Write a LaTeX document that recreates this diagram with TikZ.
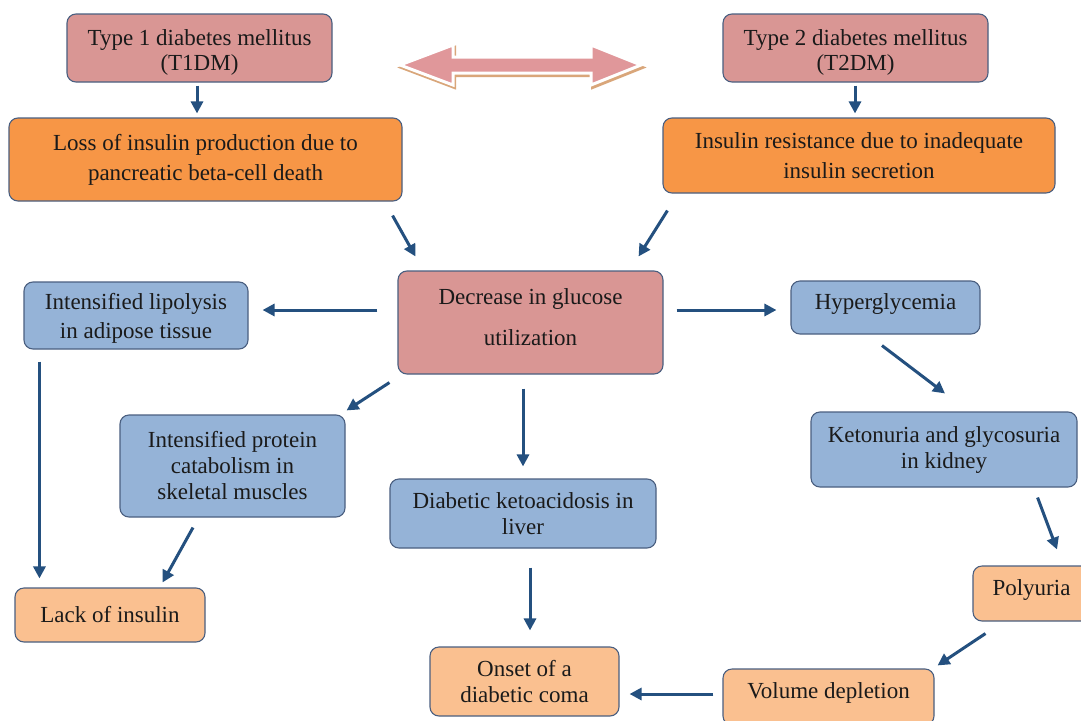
\documentclass[tikz,border=0pt]{standalone}
\usepackage{fontspec}
\setmainfont{Liberation Serif}
\usetikzlibrary{arrows.meta,calc}
\definecolor{pinkf}{HTML}{D99694}
\definecolor{orangef}{HTML}{F79646}
\definecolor{bluef}{HTML}{95B3D7}
\definecolor{lorangef}{HTML}{FAC090}
\definecolor{bordc}{HTML}{4A5F80}
\definecolor{arrc}{HTML}{24507F}
\definecolor{txtc}{HTML}{1A1A1A}
\definecolor{dblpink}{HTML}{E0979A}
\definecolor{shadowc}{HTML}{D9A67A}
\newcommand\liftby[2]{\raisebox{#1}[\height][\depth]{\begin{tabular}{@{}c@{}}#2\end{tabular}}}
\begin{document}
\begin{tikzpicture}[x=1pt,y=-1pt,
  box/.style={draw=bordc, line width=1.1pt, rounded corners=9pt, align=center,
    inner sep=0pt, font=\fontsize{23}{26}\selectfont, text=txtc},
  pinkbox/.style={box, fill=pinkf},
  orbox/.style={box, fill=orangef},
  bluebox/.style={box, fill=bluef},
  lobox/.style={box, fill=lorangef},
  arr/.style={draw=arrc, line width=3pt, -{Triangle[length=12pt,width=12pt]}},
  dblarrow/.style={line width=3pt, line join=miter}]
\useasboundingbox (0,0) rectangle (1081,720);
\fill[white] (0,0) rectangle (1081,720);

% double arrow decoration
\def\dblpath{(400,65) -- (453,45) -- (453,57) -- (591,57) -- (591,45) -- (641,65) -- (591,85) -- (591,73) -- (453,73) -- (453,85) -- cycle}
\filldraw[dblarrow, draw=shadowc, fill=shadowc, shift={(1.5,2.5)}] \dblpath;
\filldraw[dblarrow, draw=white, fill=dblpink] \dblpath;

% nodes
\node[pinkbox, minimum width=265pt, minimum height=68pt, font=\fontsize{23}{25}\selectfont] (t1) at (199.5,48) {\liftby{-4.5pt}{Type 1 diabetes mellitus\\(T1DM)}};
\node[pinkbox, minimum width=265pt, minimum height=68pt, font=\fontsize{23}{25}\selectfont] (t2) at (855.5,48) {\liftby{-4.5pt}{Type 2 diabetes mellitus\\(T2DM)}};
\node[orbox, minimum width=393pt, minimum height=83pt, font=\fontsize{23}{30}\selectfont] (loss) at (205.5,159.5) {Loss of insulin production due to\\pancreatic beta-cell death};
\node[orbox, minimum width=392pt, minimum height=75pt, font=\fontsize{23}{30}\selectfont] (res) at (859,155.5) {Insulin resistance due to inadequate\\insulin secretion};
\node[pinkbox, minimum width=265pt, minimum height=103pt, font=\fontsize{23}{41}\selectfont] (dec) at (530.5,322.5) {\liftby{6pt}{Decrease in glucose\\utilization}};
\node[bluebox, minimum width=224pt, minimum height=67pt, font=\fontsize{23}{29}\selectfont] (lip) at (136,315.5) {\liftby{-2.5pt}{Intensified lipolysis\\in adipose tissue}};
\node[bluebox, minimum width=189pt, minimum height=53pt] (hyp) at (885.5,307.5) {\liftby{3pt}{Hyperglycemia}};
\node[bluebox, minimum width=225pt, minimum height=102pt] (prot) at (232.5,466) {Intensified protein\\catabolism in\\skeletal muscles};
\node[bluebox, minimum width=266pt, minimum height=69pt] (keto) at (523,513.5) {Diabetic ketoacidosis in\\liver};
\node[bluebox, minimum width=266pt, minimum height=75pt] (kid) at (944,449.5) {Ketonuria and glycosuria\\in kidney};
\node[lobox, minimum width=190pt, minimum height=54pt] (lack) at (110,615) {Lack of insulin};
\node[lobox, minimum width=117pt, minimum height=55pt] (poly) at (1031.5,593.5) {\liftby{3pt}{Polyuria}};
\node[lobox, minimum width=189pt, minimum height=69pt] (onset) at (524.5,681.5) {Onset of a\\diabetic coma};
\node[lobox, minimum width=211pt, minimum height=56pt] (vol) at (828.5,697) {\liftby{4pt}{Volume depletion}};

% connectors
\draw[arr] ($(t1.south)+(-2.5,3)$) -- ($(loss.north)+(-8.5,-4)$);
\draw[arr] ($(t2.south)+(-0.5,3)$) -- ($(res.north)+(-4,-4)$);
\draw[arr] ($(loss.south east)+(-10,14)$) -- ($(dec.north west)+(18,-14)$);
\draw[arr] ($(res.south west)+(5,17)$) -- ($(dec.north east)+(-25,-14)$);
\draw[arr] ($(dec.west)+(-20,-12.5)$) -- ($(lip.east)+(14,-5.5)$);
\draw[arr] ($(dec.east)+(13,-12.5)$) -- ($(hyp.west)+(-14,2.5)$);
\draw[arr] ($(dec.south west)+(-8,8)$) -- ($(prot.north east)+(1,-4)$);
\draw[arr] ($(dec.south)+(-7.5,14)$) -- ($(keto.north)+(0,-12)$);
\draw[arr] ($(lip.south west)+(16,12)$) -- ($(lack.north west)+(25,-9)$);
\draw[arr] ($(prot.south)+(-39.5,10)$) -- ($(lack.north east)+(-43,-5)$);
\draw[arr] ($(hyp.south)+(-3.5,11)$) -- ($(kid.north)+(1,-18)$);
\draw[arr] ($(kid.south east)+(-40,10)$) -- ($(poly.north)+(25.5,-16)$);
\draw[arr] ($(keto.south)+(7,19)$) -- ($(onset.north)+(5.5,-16)$);
\draw[arr] ($(poly.south west)+(13,12)$) -- ($(vol.north east)+(3,-3)$);
\draw[arr] ($(vol.west)+(-9,-3)$) -- ($(onset.east)+(10,12.5)$);
\end{tikzpicture}
\end{document}
